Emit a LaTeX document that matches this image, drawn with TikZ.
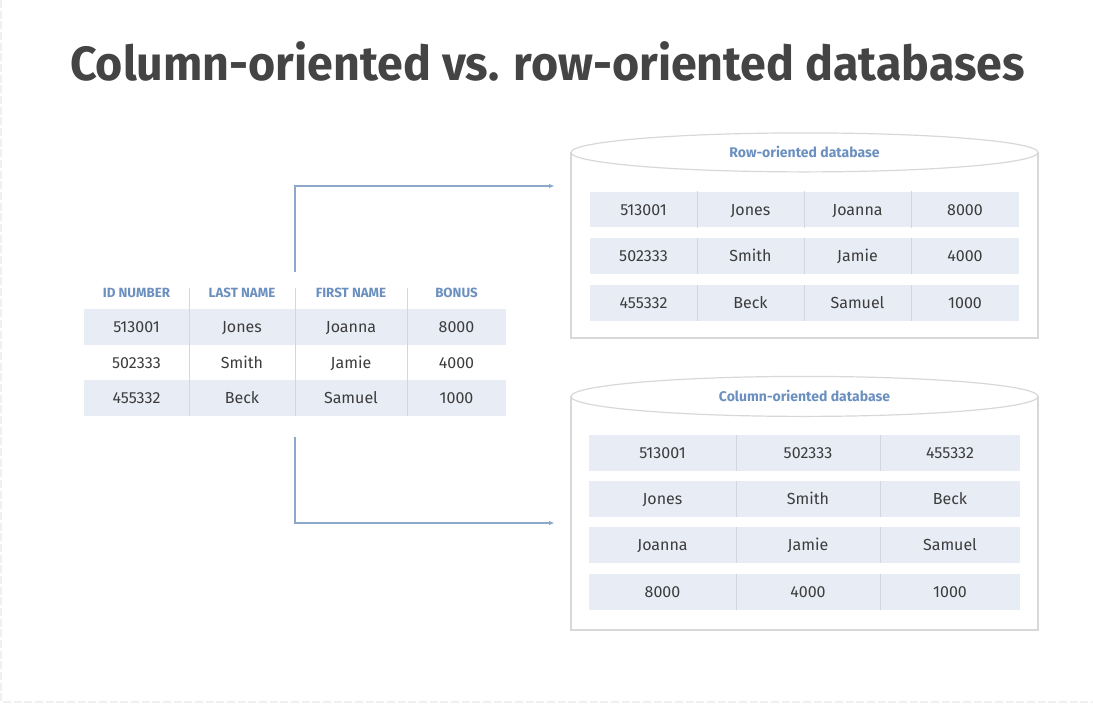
\documentclass[tikz,border=0pt]{standalone}
\usepackage{fontspec}
\usepackage{graphicx}
\setmainfont{Fira Sans}
\usetikzlibrary{arrows.meta, positioning}

\definecolor{bandfill}{HTML}{E8ECF5}
\definecolor{sepgray}{HTML}{D2D6DE}
\definecolor{textgray}{HTML}{3C3C3C}
\definecolor{headblue}{HTML}{6B90C0}
\definecolor{linkblue}{HTML}{8DA8CA}
\definecolor{cylgray}{HTML}{D8D8D8}
\definecolor{titlegray}{HTML}{444444}

\begin{document}
\begin{tikzpicture}[x=0.75pt, y=-0.75pt,
  cell/.style={inner sep=0pt, minimum height=35.5*0.75pt, text=textgray,
               text height=8.5pt, text depth=0pt,
               font=\fontsize{12}{14}\selectfont},
  head/.style={inner sep=0pt, text=headblue, font=\fontsize{10}{12}\selectfont\bfseries},
  sep/.style={draw=sepgray, line width=0.9pt},
  cylbody/.style={draw=cylgray, fill=white, line width=0.9pt, inner sep=0pt},
  cyltop/.style={draw=cylgray, fill=white, line width=0.9pt},
  dblabel/.style={text=headblue, font=\fontsize{10.5}{12}\selectfont\bfseries},
  link/.style={draw=linkblue, line width=0.9pt, -{Latex[length=4pt, width=3.5pt]}}]

  \useasboundingbox (0,0) rectangle (1093,704);
  \draw[black!6, line width=1.2pt, dash pattern=on 6pt off 2pt] (1,0) -- (1,702) -- (1093,702);

  % title
  \node[anchor=base, text=titlegray, inner sep=0pt] (title) at (547.5,80)
       {\resizebox{716pt}{\height}{\fontsize{36}{40}\selectfont\bfseries Column-oriented vs. row-oriented databases}};

  % source table
  \node[head] (h1) at (136.5,293) {ID NUMBER};
  \node[head] (h2) at (242,293) {LAST NAME};
  \node[head] (h3) at (351,293) {FIRST NAME};
  \node[head] (h4) at (456.5,293) {BONUS};
  \foreach \r/\y/\id/\ln/\fn/\bo/\f in {1/327/513001/Jones/Joanna/8000/bandfill,
                                        2/362.5/502333/Smith/Jamie/4000/white,
                                        3/398/455332/Beck/Samuel/1000/bandfill} {
    \node[cell, fill=\f, minimum width=105*0.75pt] (t\r a) at (136.5,\y) {\id};
    \node[cell, fill=\f, minimum width=106*0.75pt] (t\r b) at (242,\y) {\ln};
    \node[cell, fill=\f, minimum width=112*0.75pt] (t\r c) at (351,\y) {\fn};
    \node[cell, fill=\f, minimum width=99*0.75pt] (t\r d) at (456.5,\y) {\bo};
  }
  \foreach \c in {a,b,c}
    \draw[sep] (t1\c.north east) ++(0,-21) -- (t3\c.south east);

  % row-oriented database
  \node[cylbody, minimum width=467*0.75pt, minimum height=185*0.75pt] (rowdb) at (804.5,245.5) {};
  \draw[cyltop] (rowdb.north) ellipse [x radius=233.5, y radius=19.5];
  \node[dblabel] (rowlabel) at (rowdb.north) {Row-oriented database};
  \foreach \r/\y/\id/\ln/\fn/\bo in {1/209.5/513001/Jones/Joanna/8000,
                                     2/256/502333/Smith/Jamie/4000,
                                     3/303/455332/Beck/Samuel/1000} {
    \node[cell, fill=bandfill, minimum width=107*0.75pt] (r\r a) at (643.5,\y) {\id};
    \node[cell, fill=bandfill, minimum width=107*0.75pt] (r\r b) at (750.5,\y) {\ln};
    \node[cell, fill=bandfill, minimum width=107*0.75pt] (r\r c) at (857.5,\y) {\fn};
    \node[cell, fill=bandfill, minimum width=108*0.75pt] (r\r d) at (965,\y) {\bo};
    \foreach \c in {a,b,c}
      \draw[sep] (r\r\c.north east) -- (r\r\c.south east);
  }

  % column-oriented database
  \node[cylbody, minimum width=467*0.75pt, minimum height=233*0.75pt] (coldb) at (804.5,513.5) {};
  \draw[cyltop] (coldb.north) ellipse [x radius=233.5, y radius=20];
  \node[dblabel] (collabel) at (coldb.north) {Column-oriented database};
  \foreach \r/\y/\p/\q/\s in {1/453/513001/502333/455332,
                              2/499/Jones/Smith/Beck,
                              3/545/Joanna/Jamie/Samuel,
                              4/592/8000/4000/1000} {
    \node[cell, fill=bandfill, minimum width=147*0.75pt, minimum height=36*0.75pt] (c\r a) at (662.5,\y) {\p};
    \node[cell, fill=bandfill, minimum width=144*0.75pt, minimum height=36*0.75pt] (c\r b) at (808,\y) {\q};
    \node[cell, fill=bandfill, minimum width=140*0.75pt, minimum height=36*0.75pt] (c\r c) at (950,\y) {\s};
    \foreach \c in {a,b}
      \draw[sep] (c\r\c.north east) -- (c\r\c.south east);
  }

  % connectors
  \coordinate (upstart) at (295,272);
  \coordinate (downstart) at (295,437);
  \coordinate (rowin) at ([xshift=-16*0.75pt]rowdb.west |- 0,186);
  \coordinate (colin) at ([xshift=-16*0.75pt]coldb.west |- 0,523);
  \draw[link] (upstart) |- (rowin);
  \draw[link] (downstart) |- (colin);
\end{tikzpicture}
\end{document}
